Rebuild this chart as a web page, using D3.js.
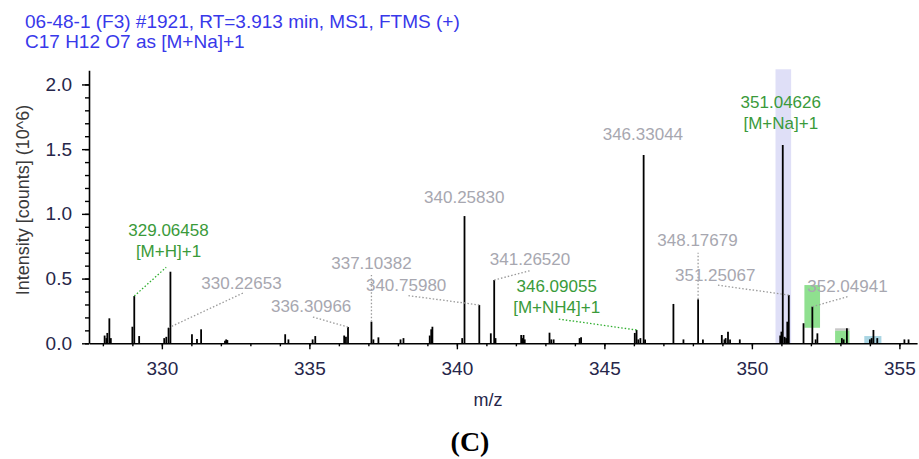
<!DOCTYPE html>
<html>
<head>
<meta charset="utf-8">
<script src="https://cdn.jsdelivr.net/npm/d3@7"></script>
<style>
  html, body { margin: 0; padding: 0; background: #fff; }
  svg { display: block; font-family: "Liberation Sans", Arial, sans-serif; }
</style>
</head>
<body>
<div id="chart"></div>
<script>
// peak list: m/z and intensity (10^6 counts)
const peakMz = [
  328.06, 328.12, 328.15, 328.22, 328.27, 329.00, 329.06458, 329.23,
  330.08, 330.15, 330.22653, 330.29, 331.02, 331.19, 331.33,
  332.14, 332.18, 332.22, 334.18, 334.29, 335.11, 335.20,
  336.18, 336.24, 336.30966, 337.10382, 337.17, 337.34, 338.09, 338.19,
  339.08, 339.13, 339.17, 340.18, 340.25830, 340.75980,
  341.15, 341.26520, 341.31, 342.18, 342.22, 342.26, 342.30,
  343.14, 343.20, 343.28, 344.16, 344.21,
  346.03, 346.09055, 346.15, 346.22, 346.33044, 346.38,
  347.34, 347.68, 348.17679, 348.34,
  348.98, 349.07, 349.11, 349.19, 349.26, 349.59,
  350.96, 351.00, 351.04626, 351.11, 351.16, 351.20, 351.25067,
  351.75, 352.04941, 352.16, 352.22,
  353.05, 353.11, 353.22, 354.00, 354.06, 354.12, 354.25, 355.17, 355.31
];
const peakInt = [
  0.06, 0.04, 0.08, 0.193, 0.04, 0.128, 0.365, 0.056,
  0.04, 0.05, 0.12, 0.553, 0.07, 0.033, 0.108,
  0.02, 0.03, 0.025, 0.07, 0.03, 0.03, 0.056,
  0.06, 0.05, 0.125, 0.167, 0.03, 0.046, 0.03, 0.04,
  0.06, 0.108, 0.128, 0.04, 0.983, 0.296,
  0.077, 0.489, 0.04, 0.064, 0.04, 0.064, 0.03,
  0.082, 0.03, 0.03, 0.04, 0.046,
  0.08, 0.103, 0.03, 0.04, 1.455, 0.03,
  0.304, 0.03, 0.34, 0.03,
  0.064, 0.03, 0.04, 0.09, 0.03, 0.03,
  0.06, 0.09, 1.532, 0.05, 0.04, 0.167, 0.373,
  0.155, 0.283, 0.03, 0.077,
  0.04, 0.03, 0.116, 0.03, 0.04, 0.103, 0.04, 0.03, 0.03
];

// annotation labels (text lines, text anchor in data units, leader end)
const labelLines = [
  ['329.06458', '[M+H]+1'], ['330.22653'], ['336.30966'], ['337.10382'],
  ['340.75980'], ['340.25830'], ['341.26520'], ['346.09055', '[M+NH4]+1'],
  ['346.33044'], ['348.17679'], ['351.25067'], ['351.04626', '[M+Na]+1'],
  ['352.04941']
];
const labelPeak = [329.06458, 330.22653, 336.30966, 337.10382, 340.75980, 340.25830,
  341.26520, 346.09055, 346.33044, 348.17679, 351.25067, 351.04626, 352.04941];
const labelKind = ['match', 'other', 'other', 'other', 'other', 'other', 'other',
  'match', 'other', 'other', 'other', 'match', 'other'];
const labelMz  = [330.225, 332.70, 335.06, 337.10382, 338.28, 340.25, 342.48,
  343.383, 346.305, 348.156, 348.756, 350.98, 353.24];
const labelInt = [0.829, 0.419, 0.242, 0.574, 0.404, 1.083, 0.605,
  0.396, 1.571, 0.752, 0.481, 1.818, 0.396];
const leaderMz  = [330.146, 332.756, 335.085, 337.10382, 338.36, null, 342.485,
  343.43, null, 348.17679, 348.81, null, 353.24];
const leaderInt = [0.587, 0.389, 0.205, 0.528, 0.368, null, 0.561,
  0.188, null, 0.700, 0.45, null, 0.36];

// isotope pattern boxes: [mzStart, mzEnd, intLow, intHigh]
const boxMz0  = [350.80, 351.78, 352.82, 352.82, 353.81];
const boxMz1  = [351.33, 352.31, 353.31, 353.31, 354.39];
const boxLo   = [0, 0.12, 0.097, 0, 0];
const boxHi   = [2.117, 0.45, 0.116, 0.097, 0.056];
const boxFill = ['#dfdff7', '#8fe08f', '#c8c8c8', '#8fe08f', '#a9d5e3'];

const xMajor = [330, 335, 340, 345, 350, 355];
const xMinor = d3.range(328, 356);
const yMajor = [0, 0.5, 1.0, 1.5, 2.0];
const yMinor = d3.range(0, 21).map(d => d / 10);

const titleLines = ['06-48-1 (F3) #1921, RT=3.913 min, MS1, FTMS (+)', 'C17 H12 O7 as [M+Na]+1'];

const width = 919;
const height = 459;

const svg = d3.select('#chart')
  .append('svg')
  .attr('width', width)
  .attr('height', height);

const x = d3.scaleLinear().domain([327.53, 355.6]).range([89, 917.1]);
const y = d3.scaleLinear().domain([0, 2.11]).range([343.3, 70.2]);

// title
svg.selectAll('.title')
  .data(titleLines)
  .enter()
  .append('text')
  .attr('x', 25)
  .attr('y', (d, i) => 28 + i * 20)
  .attr('font-size', '19px')
  .attr('fill', '#3838ea')
  .text(d => d);

// boxes behind peaks
svg.selectAll('.box')
  .data(boxMz0)
  .enter()
  .append('rect')
  .attr('x', (d, i) => x(d))
  .attr('width', (d, i) => x(boxMz1[i]) - x(d))
  .attr('y', (d, i) => y(boxHi[i]))
  .attr('height', (d, i) => y(boxLo[i]) - y(boxHi[i]))
  .attr('fill', (d, i) => boxFill[i]);

// peaks
svg.selectAll('.peak')
  .data(peakMz)
  .enter()
  .append('line')
  .attr('x1', d => x(d))
  .attr('x2', d => x(d))
  .attr('y1', y(0))
  .attr('y2', (d, i) => y(peakInt[i]))
  .attr('stroke', '#000')
  .attr('stroke-width', 1.8);

// axes
const xAxis = svg.append('g')
  .attr('transform', `translate(0,${y(0)})`);
xAxis.append('g')
  .call(d3.axisBottom(x).tickValues(xMinor).tickSize(3).tickFormat('').tickSizeOuter(0))
  .call(g => g.select('.domain').remove());
xAxis.append('g')
  .call(d3.axisBottom(x).tickValues(xMajor).tickSize(6).tickPadding(12).tickSizeOuter(0))
  .call(g => g.select('.domain').attr('stroke-width', 1.6))
  .call(g => g.selectAll('text').attr('font-size', '19px').attr('fill', '#26264a')
    .attr('font-family', '"Liberation Sans", Arial, sans-serif'));

const yAxis = svg.append('g')
  .attr('transform', `translate(${x(327.53)},0)`);
yAxis.append('g')
  .call(d3.axisLeft(y).tickValues(yMinor).tickSize(4).tickFormat('').tickSizeOuter(0))
  .call(g => g.select('.domain').remove());
yAxis.append('g')
  .call(d3.axisLeft(y).tickValues(yMajor).tickSize(7).tickPadding(10).tickSizeOuter(0)
    .tickFormat(d3.format('.1f')))
  .call(g => g.select('.domain').attr('stroke-width', 1.6))
  .call(g => g.selectAll('text').attr('font-size', '19px').attr('fill', '#26264a')
    .attr('font-family', '"Liberation Sans", Arial, sans-serif'));

svg.selectAll('.tick line').attr('stroke-width', 1.4);

// axis titles
svg.append('text')
  .attr('transform', 'rotate(-90)')
  .attr('x', -200)
  .attr('y', 29)
  .attr('text-anchor', 'middle')
  .attr('font-size', '18px')
  .attr('fill', '#3a3a3a')
  .text('Intensity [counts] (10^6)');

svg.append('text')
  .attr('x', 488)
  .attr('y', 406)
  .attr('text-anchor', 'middle')
  .attr('font-size', '18px')
  .attr('fill', '#26264a')
  .text('m/z');

svg.append('text')
  .attr('x', 470)
  .attr('y', 451)
  .attr('text-anchor', 'middle')
  .attr('font-family', '"Liberation Serif", "Times New Roman", serif')
  .attr('font-weight', 'bold')
  .attr('font-size', '28px')
  .attr('fill', '#000')
  .text('(C)');

// leaders
const peakHeight = mz => peakInt[peakMz.indexOf(mz)];
labelPeak.forEach((mz, i) => {
  if (leaderMz[i] === null) return;
  svg.append('line')
    .attr('x1', x(mz))
    .attr('y1', y(peakHeight(mz)))
    .attr('x2', x(leaderMz[i]))
    .attr('y2', y(leaderInt[i]))
    .attr('stroke', labelKind[i] === 'match' ? '#2fae2f' : '#9a9a9a')
    .attr('stroke-width', 1.3)
    .attr('stroke-dasharray', '1.5,2');
});

// peak labels
labelLines.forEach((lines, i) => {
  const t = svg.append('text')
    .attr('text-anchor', 'middle')
    .attr('font-size', '17px')
    .attr('fill', labelKind[i] === 'match' ? '#3a9a3a' : '#a7a7b0');
  lines.forEach((line, j) => {
    t.append('tspan')
      .attr('x', x(labelMz[i]))
      .attr('y', y(labelInt[i]) + j * 21)
      .text(line);
  });
});
</script>
</body>
</html>
